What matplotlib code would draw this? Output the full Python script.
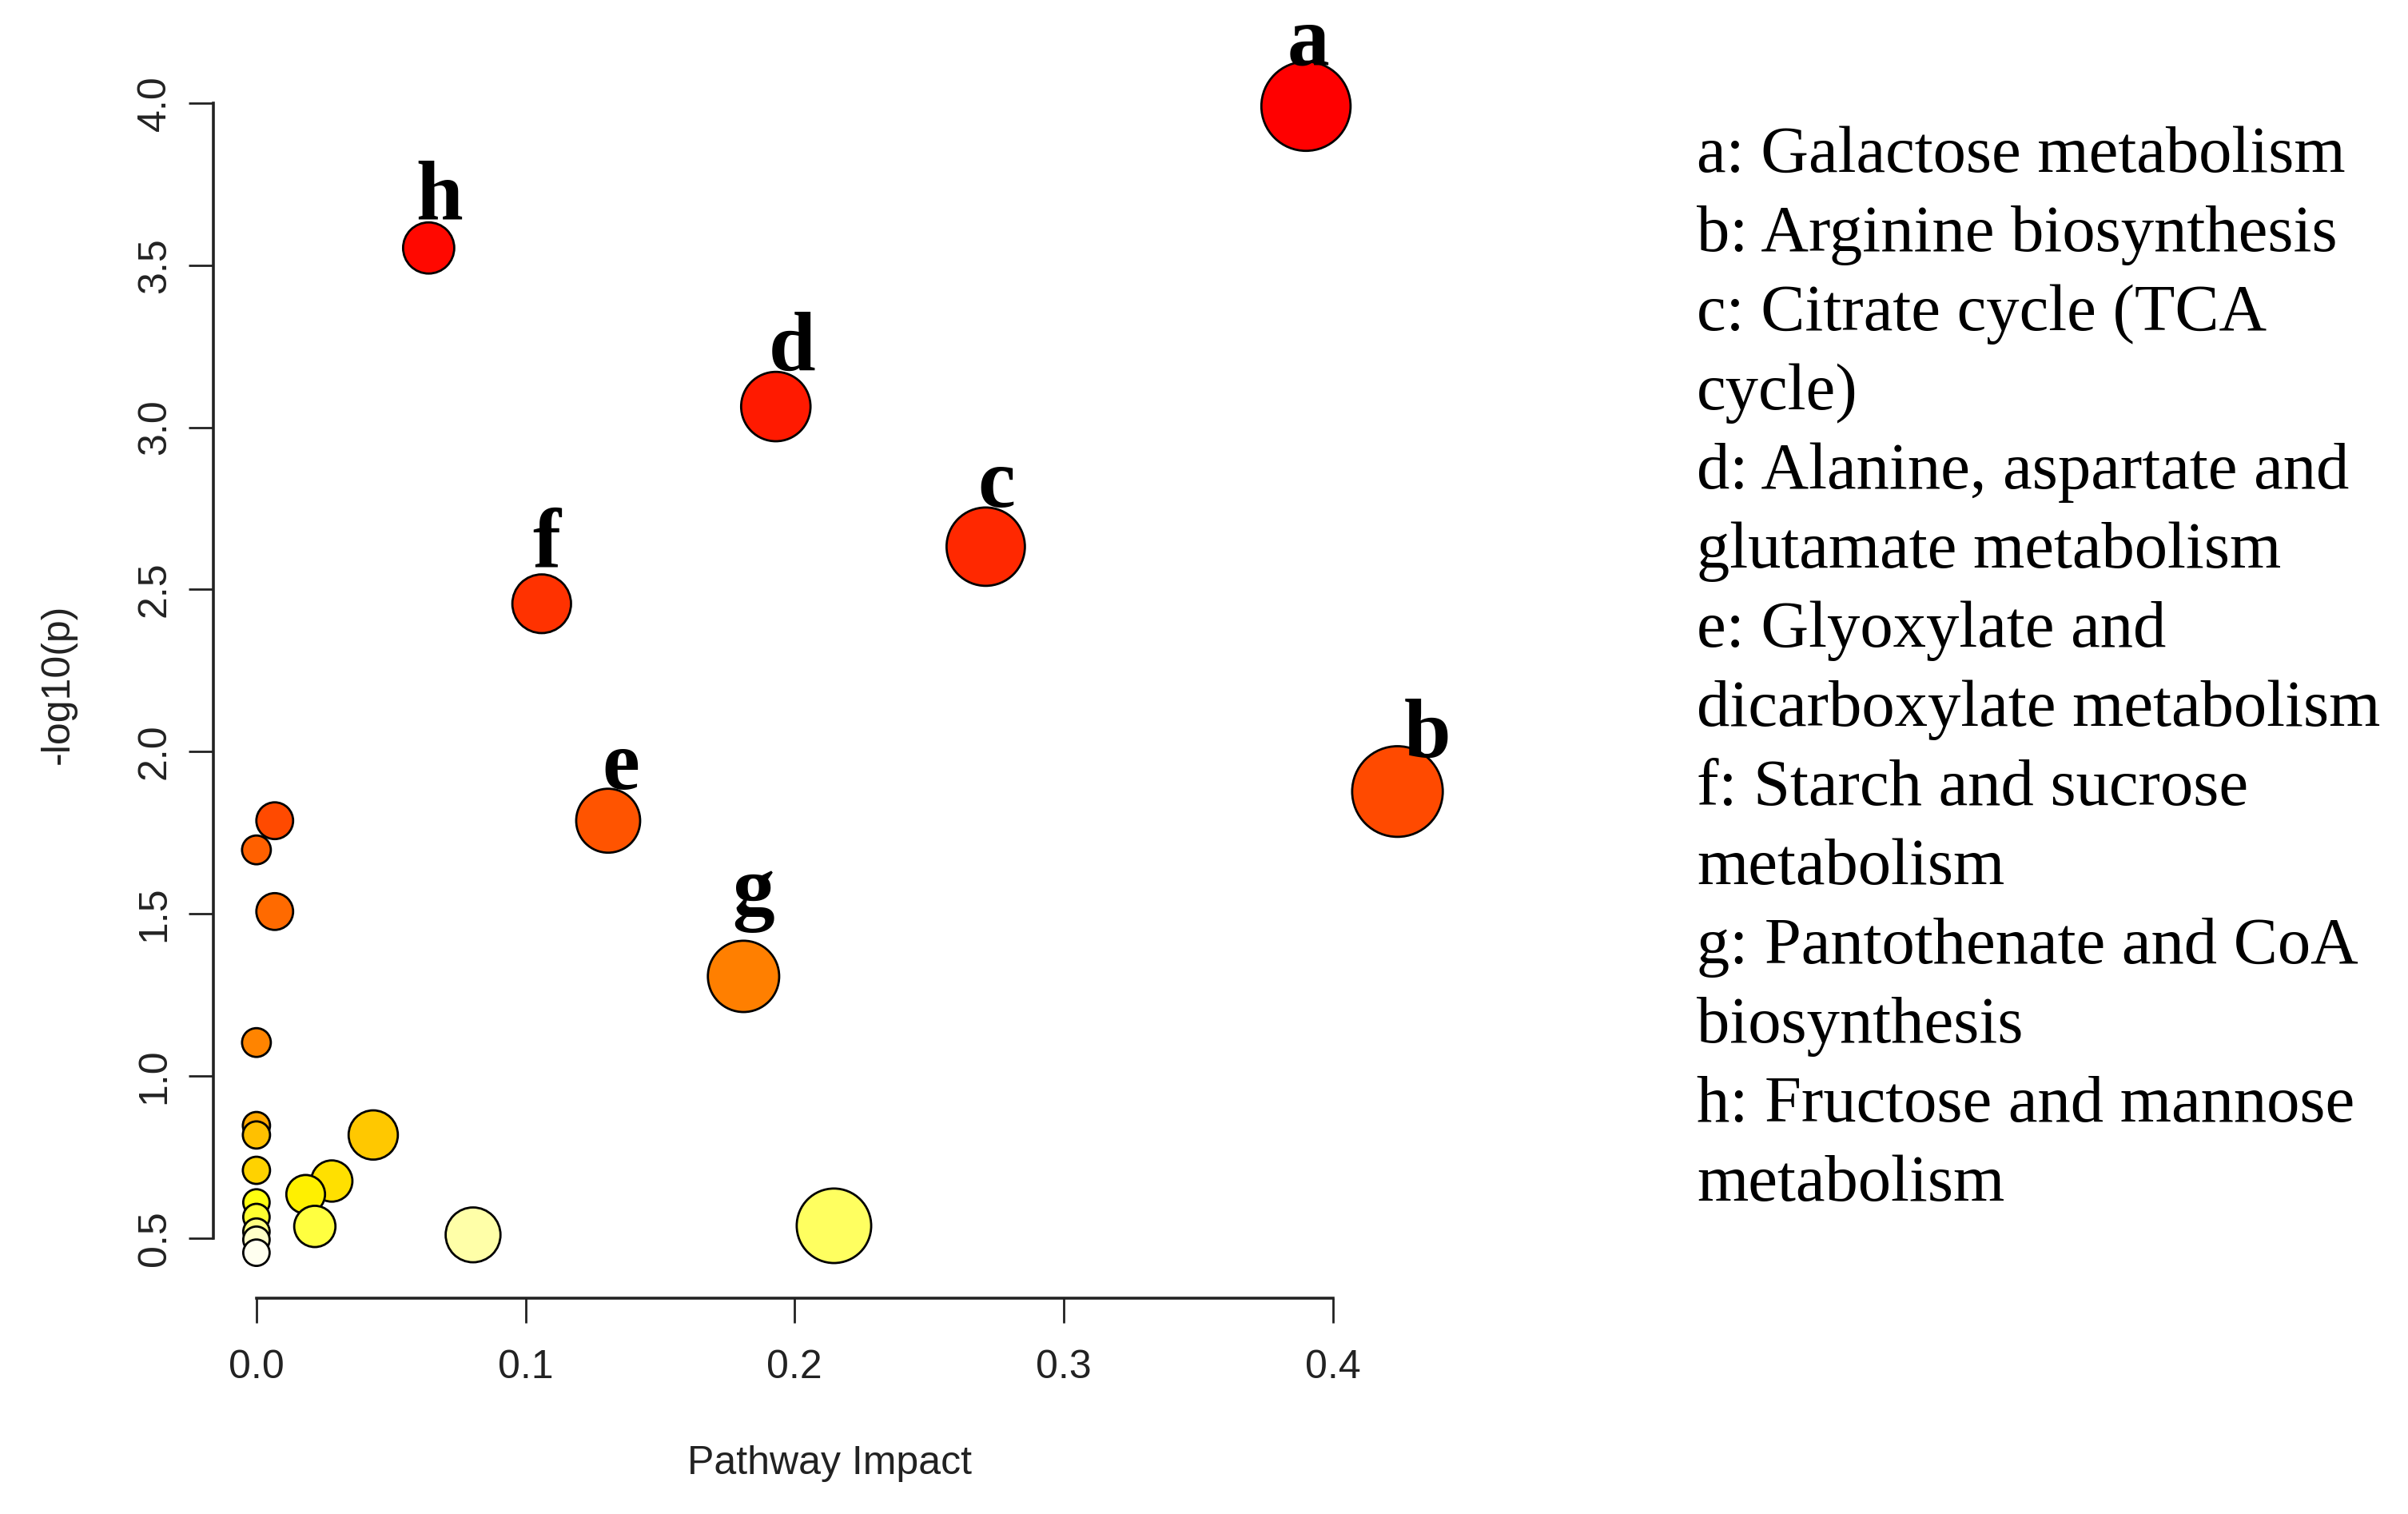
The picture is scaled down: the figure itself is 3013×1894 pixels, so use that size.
import matplotlib.pyplot as plt

# pathway data, ordered by -log10(p) (largest first, as drawn)
impact = [0.390, 0.064, 0.193, 0.271, 0.106, 0.424, 0.0068, 0.1307, 0.0, 0.0068,
          0.181, 0.0, 0.0, 0.0434, 0.0, 0.0, 0.028, 0.0183, 0.0, 0.0,
          0.0217, 0.2146, 0.0, 0.0805, 0.0, 0.0]
neg_log_p = [3.99, 3.553, 3.064, 2.632, 2.456, 1.877, 1.787, 1.787, 1.697, 1.507,
             1.307, 1.103, 0.847, 0.818, 0.818, 0.709, 0.676, 0.635, 0.61, 0.565,
             0.536, 0.538, 0.52, 0.51, 0.495, 0.455]
# bubble radius in pixels
bubble_r = [55.8, 32, 43.4, 49, 36.7, 56.7, 23, 40, 18, 23,
            44.6, 18, 17, 30.8, 17, 17, 25.8, 24.2, 16.5, 16.5,
            25.8, 46.6, 16.5, 34.3, 16.5, 16.5]
colors = ['#FF0000', '#FF0800', '#FF1A00', '#FF2800', '#FF3200', '#FF4A00', '#FF4A00',
          '#FF5400', '#FF6000', '#FF6A00', '#FF7F00', '#FF8400', '#FFA800', '#FFC800',
          '#FFC000', '#FFD200', '#FFE000', '#FFF000', '#FFFF10', '#FFFF30', '#FFFF40',
          '#FFFF60', '#FFFF80', '#FFFFA8', '#FFFFC8', '#FFFFF0']

# labelled points: index into the lists above
label_idx = {'a': 0, 'b': 5, 'c': 3, 'd': 2, 'e': 7, 'f': 4, 'g': 10, 'h': 1}
# label offset from the bubble centre (px)
label_off = {'a': (3, 52), 'b': (37, 42), 'c': (13, 50), 'd': (20, 45),
             'e': (16, 40), 'f': (6, 47), 'g': (12, 77), 'h': (13, 36)}

legend_lines = [
    'a: Galactose metabolism',
    'b: Arginine biosynthesis',
    'c: Citrate cycle (TCA',
    'cycle)',
    'd: Alanine, aspartate and',
    'glutamate metabolism',
    'e: Glyoxylate and',
    'dicarboxylate metabolism',
    'f: Starch and sucrose',
    'metabolism',
    'g: Pantothenate and CoA',
    'biosynthesis',
    'h: Fructose and mannose',
    'metabolism',
]

dpi = 100
px2pt = 72 / dpi
fig = plt.figure(figsize=(30.13, 18.94), dpi=dpi)
ax = fig.add_axes([0.0885, 0.1426, 0.5209, 0.8215])

sizes = [(2 * r * px2pt) ** 2 for r in bubble_r]
ax.scatter(impact, neg_log_p, s=sizes, c=colors, edgecolors='black',
           linewidths=2.0, zorder=3, clip_on=False)

for lab, i in label_idx.items():
    dx, dy = label_off[lab]
    ax.annotate(lab, (impact[i], neg_log_p[i]), xytext=(dx * px2pt, dy * px2pt),
                textcoords='offset points', ha='center', va='baseline',
                fontsize=76, fontweight='bold', family='Liberation Serif', zorder=4)

ax.set_xlim(-0.0161, 0.45)
ax.set_ylim(0.315, 4.15)
ax.set_xticks([0.0, 0.1, 0.2, 0.3, 0.4])
ax.set_yticks([0.5, 1.0, 1.5, 2.0, 2.5, 3.0, 3.5, 4.0])
ax.xaxis.set_major_formatter(plt.FormatStrFormatter('%.1f'))
ax.yaxis.set_major_formatter(plt.FormatStrFormatter('%.1f'))

for s in ['top', 'right']:
    ax.spines[s].set_visible(False)
ax.spines['left'].set_bounds(0.5, 4.0)
ax.spines['bottom'].set_bounds(0.0, 0.4)
for s in ['left', 'bottom']:
    ax.spines[s].set_linewidth(2.6)
    ax.spines[s].set_color('#222222')

ax.tick_params(axis='both', direction='out', length=22, width=2.0, color='#222222',
               labelsize=36, labelcolor='#222222')
ax.tick_params(axis='x', pad=24)
ax.tick_params(axis='y', pad=14, labelrotation=90)
for t in ax.get_yticklabels():
    t.set_va('center')
for t in ax.get_xticklabels() + ax.get_yticklabels():
    t.set_family('Liberation Sans')

fig.text(0.3446, 0.0333, 'Pathway Impact', ha='center', va='center',
         fontsize=36, family='Liberation Sans', color='#222222')
fig.text(0.0242, 0.548, '-log10(p)', ha='center', va='center', rotation=90,
         fontsize=36, family='Liberation Sans', color='#222222')

# pathway key on the right
y0 = 1 - 215 / 1894
step = 99.0 / 1894
for k, line in enumerate(legend_lines):
    fig.text(0.7046, y0 - k * step, line, ha='left', va='baseline',
             fontsize=59.5, family='Liberation Serif', color='black')

fig.savefig('out.png', dpi=dpi, facecolor='white')
